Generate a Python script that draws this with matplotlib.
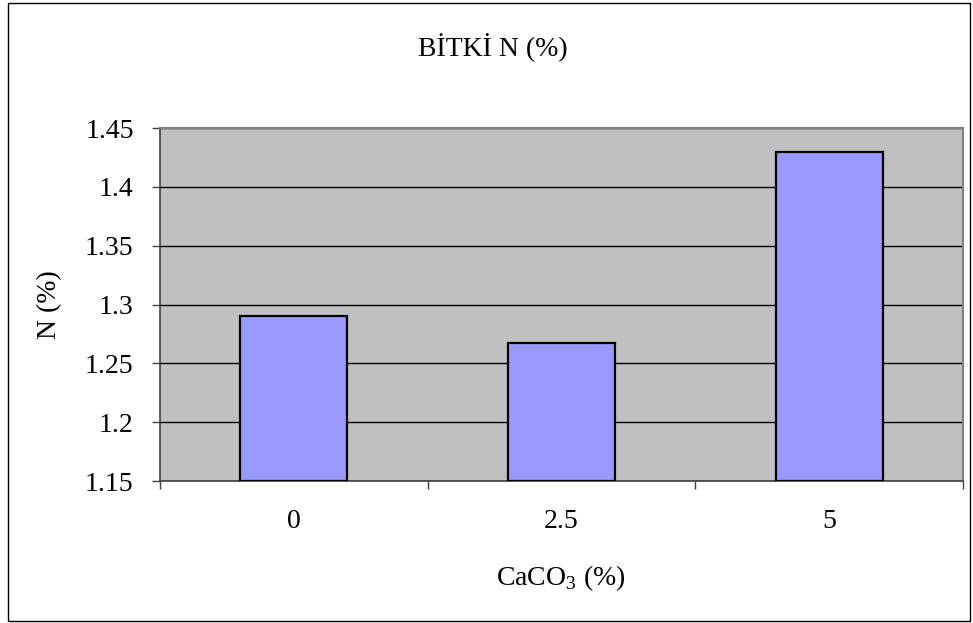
import matplotlib
matplotlib.use("Agg")
import matplotlib.pyplot as plt
from matplotlib.patches import Rectangle
import numpy as np

# ── data ─────────────────────────────────────────────────────────────────────
caco3_levels = ["0", "2.5", "5"]
plant_n = [1.29, 1.267, 1.43]
y_ticks = [1.15, 1.2, 1.25, 1.3, 1.35, 1.4, 1.45]
y_tick_labels = ["1.15", "1.2", "1.25", "1.3", "1.35", "1.4", "1.45"]

plt.rcParams["font.family"] = ["Liberation Serif", "DejaVu Serif"]
plt.rcParams["mathtext.fontset"] = "custom"
plt.rcParams["mathtext.rm"] = "Liberation Serif"

FS = 20
W, H = 973, 623
fig = plt.figure(figsize=(W / 100, H / 100), dpi=100)

# outer chart frame
fig.patches.append(Rectangle((8 / W, 2 / H), 962 / W, 618 / H,
                             transform=fig.transFigure, fill=False,
                             edgecolor="black", linewidth=1.0))

# plot area: x 160..963, y 128..481 (pixels from top-left)
ax = fig.add_axes([160 / W, 1 - 481 / H, 803 / W, 353 / H])
ax.set_facecolor("#C0C0C0")

x = np.arange(len(caco3_levels))
ax.bar(x, [v - 1.15 for v in plant_n], bottom=1.15, width=0.4,
       color="#9999FF", edgecolor="black", linewidth=1.6, zorder=3)

ax.set_xlim(-0.5, len(caco3_levels) - 0.5)
ax.set_ylim(1.15, 1.45)
ax.set_yticks(y_ticks)
ax.set_yticklabels(y_tick_labels, fontsize=FS)
ax.yaxis.grid(True, color="black", linewidth=1.0, zorder=1)
ax.set_axisbelow(True)

# category ticks sit on the boundaries, labels in the middle
ax.set_xticks(np.arange(-0.5, len(caco3_levels)), minor=False)
ax.set_xticklabels([])
ax.set_xticks(x, minor=True)
ax.set_xticklabels(caco3_levels, minor=True, fontsize=FS)
ax.tick_params(axis="x", which="major", direction="out", length=6,
               width=1, color="#404040")
ax.tick_params(axis="x", which="minor", length=0, pad=20)
ax.tick_params(axis="y", direction="out", length=6, width=1,
               color="#404040", pad=13)

for side in ["top", "right"]:
    ax.spines[side].set_color("#808080")
    ax.spines[side].set_linewidth(1.5)
for side in ["left", "bottom"]:
    ax.spines[side].set_color("#404040")
    ax.spines[side].set_linewidth(1.2)

fig.text(493 / W, 1 - 48 / H, "BİTKİ N (%)", ha="center", va="center",
         fontsize=FS)
fig.text(50 / W, 1 - 305 / H, "N (%)", ha="center", va="center",
         rotation=90, fontsize=FS)
fig.text(561 / W, 1 - 578 / H, r"CaCO$_{\mathregular{3}}$ (%)",
         ha="center", va="center", fontsize=FS)

fig.savefig("out.png", dpi=100)
